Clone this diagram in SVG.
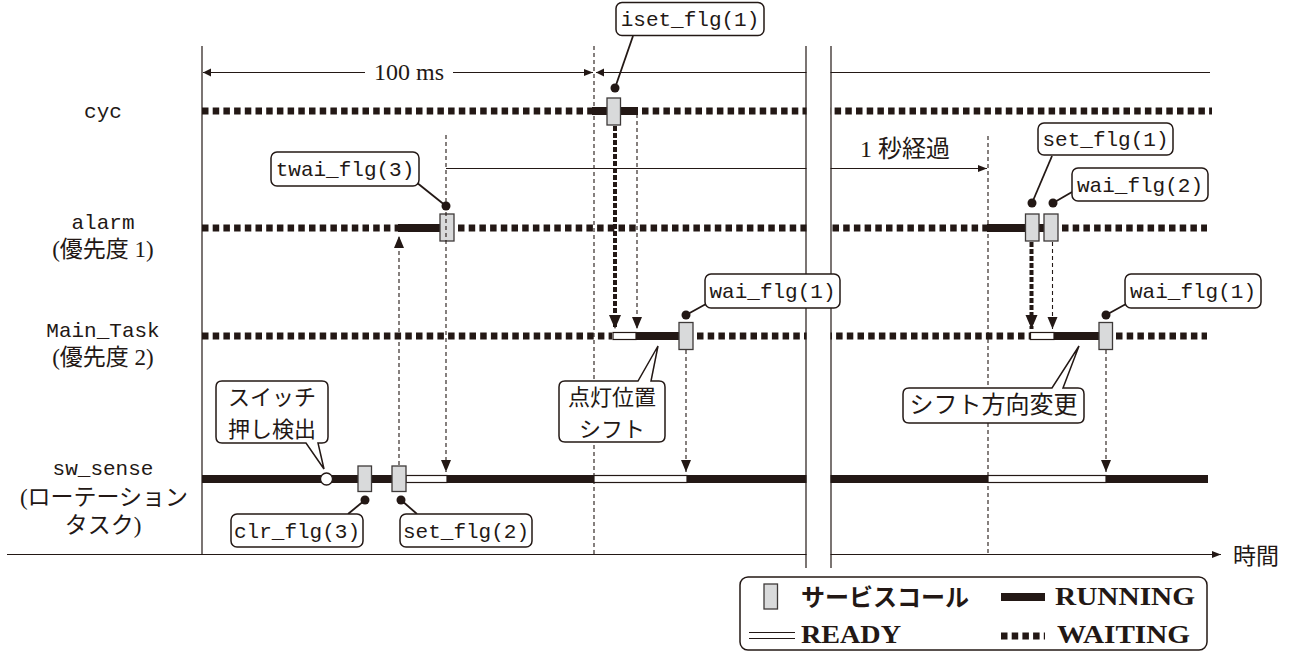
<svg xmlns="http://www.w3.org/2000/svg" width="1298" height="653" viewBox="0 0 1298 653">
<style>
.wait{stroke:#231815;stroke-width:7;stroke-dasharray:6.5 4.2;fill:none}
.run{stroke:#231815;stroke-width:8;fill:none}
.ready{fill:#fff;stroke:#231815;stroke-width:1.2}
.svc{fill:#d9dadb;stroke:#3e3a39;stroke-width:1.3}
.thin{stroke:#231815;stroke-width:1.2;fill:none}
.dash{stroke:#231815;stroke-width:1.1;stroke-dasharray:4 3;fill:none}
.thick{stroke:#231815;stroke-width:4;stroke-dasharray:5 2;fill:none}
.lbl{fill:#fff;stroke:#231815;stroke-width:1.5}
.dot{fill:#231815}
.mono{font-family:"Liberation Mono","DejaVu Sans Mono",monospace;font-size:21px;fill:#231815;text-anchor:middle}
.jp{font-family:"Liberation Serif","Noto Sans CJK JP",serif;font-size:23px;fill:#231815;text-anchor:middle}
.cj{font-family:"Noto Sans CJK JP",sans-serif;font-size:22px;fill:#231815;text-anchor:middle}
.leg{font-family:"Liberation Serif",serif;font-weight:bold;font-size:25px;fill:#231815}
</style>
<defs>
<marker id="ahs" markerUnits="userSpaceOnUse" markerWidth="12" markerHeight="10" refX="9" refY="3.5" orient="auto"><path d="M0,0 L9,3.5 L0,7 z" fill="#231815"/></marker>
<marker id="ahd" markerUnits="userSpaceOnUse" markerWidth="14" markerHeight="12" refX="12" refY="5" orient="auto"><path d="M0,0 L12,5 L0,10 z" fill="#231815"/></marker>
<marker id="ahb" markerUnits="userSpaceOnUse" markerWidth="16" markerHeight="14" refX="14" refY="6" orient="auto"><path d="M0,0 L14,6 L0,12 z" fill="#231815"/></marker>
</defs>

<g id="frame">
<line class="thin" x1="202" y1="46" x2="202" y2="555"/>
<line class="dash" x1="594" y1="46" x2="594" y2="554"/>
<line class="dash" x1="988" y1="136" x2="988" y2="554"/>
<line class="thin" x1="7" y1="554.5" x2="1221" y2="554.5" marker-end="url(#ahs)"/>
<text x="1233" y="564" style="font-family:'Noto Sans CJK JP',sans-serif;font-size:23px;fill:#231815">時間</text>
</g>

<g id="labels">
<text class="mono" x="103" y="118">cyc</text>
<text class="mono" x="103" y="229">alarm</text>
<text class="jp" x="103" y="257">(優先度 1)</text>
<text class="mono" x="103" y="337">Main_Task</text>
<text class="jp" x="103" y="365">(優先度 2)</text>
<text class="mono" x="103" y="475">sw_sense</text>
<text class="jp" x="104" y="505">(ローテーション</text>
<text class="jp" x="103" y="533">タスク)</text>
</g>

<g id="timing">
<line class="thin" x1="203" y1="72.5" x2="365" y2="72.5"/>
<path d="M211,68.5 L203,72.5 L211,76.5 z" fill="#231815"/>
<text x="409" y="80" style="font-family:'Liberation Serif',serif;font-size:24px;fill:#231815;text-anchor:middle">100 ms</text>
<line class="thin" x1="453" y1="72.5" x2="593" y2="72.5" marker-end="url(#ahs)"/>
<line class="thin" x1="596" y1="72.5" x2="1210" y2="72.5"/>
<path d="M604,68.5 L596,72.5 L604,76.5 z" fill="#231815"/>
<line class="thin" x1="446" y1="168.5" x2="987" y2="168.5" marker-end="url(#ahs)"/>
<text x="860" y="157" style="font-family:'Liberation Serif','Noto Sans CJK JP',serif;font-size:24px;fill:#231815">1 秒経過</text>
</g>

<g id="row-cyc">
<line class="wait" x1="202" y1="111" x2="592" y2="111"/>
<line class="run" x1="592" y1="111" x2="638" y2="111"/>
<line class="wait" x1="642" y1="111" x2="1212" y2="111"/>
<rect class="svc" x="607" y="98" width="13.5" height="27"/>
</g>

<g id="row-alarm">
<line class="wait" x1="202" y1="228" x2="398" y2="228"/>
<line class="run" x1="398" y1="228" x2="441" y2="228"/>
<line class="wait" x1="458" y1="228" x2="987" y2="228"/>
<line class="run" x1="987" y1="228" x2="1045" y2="228"/>
<line class="wait" x1="1062" y1="228" x2="1207" y2="228"/>
<rect class="svc" x="440" y="214" width="14" height="27"/>
<rect class="svc" x="1025.5" y="214" width="13.5" height="27"/>
<rect class="svc" x="1044" y="214" width="14" height="27"/>
</g>

<g id="row-main">
<line class="wait" x1="202" y1="336" x2="612" y2="336"/>
<rect class="ready" x="613" y="332.5" width="23" height="7"/>
<line class="run" x1="636" y1="336" x2="680" y2="336"/>
<line class="wait" x1="697" y1="336" x2="1030" y2="336"/>
<rect class="ready" x="1030.5" y="332.5" width="23.5" height="7"/>
<line class="run" x1="1054" y1="336" x2="1100" y2="336"/>
<line class="wait" x1="1116" y1="336" x2="1207" y2="336"/>
<rect class="svc" x="679" y="322.5" width="14" height="27"/>
<rect class="svc" x="1099" y="322.5" width="13.5" height="27"/>
</g>

<g id="row-sw">
<line class="run" x1="202" y1="479" x2="406" y2="479"/>
<rect class="ready" x="406" y="475.5" width="41" height="7"/>
<line class="run" x1="447" y1="479" x2="594" y2="479"/>
<rect class="ready" x="594" y="475.5" width="93" height="7"/>
<line class="run" x1="687" y1="479" x2="988" y2="479"/>
<rect class="ready" x="988" y="475.5" width="118" height="7"/>
<line class="run" x1="1106" y1="479" x2="1208" y2="479"/>
<circle cx="326.5" cy="479" r="6" fill="#fff" stroke="#231815" stroke-width="1.3"/>
<rect class="svc" x="358" y="466" width="13.5" height="25.5"/>
<rect class="svc" x="392" y="466" width="14" height="25.5"/>
</g>

<g id="connectors">
<line class="dash" x1="399" y1="465" x2="399" y2="236" marker-end="url(#ahd)"/>
<line class="dash" x1="446" y1="135" x2="446" y2="472" marker-end="url(#ahd)"/>
<line class="thick" x1="615" y1="126" x2="615" y2="329" marker-end="url(#ahb)"/>
<line class="dash" x1="637" y1="114" x2="637" y2="329" marker-end="url(#ahd)"/>
<line class="thick" x1="1031.5" y1="242" x2="1031.5" y2="329" marker-end="url(#ahb)"/>
<line class="dash" x1="1052.5" y1="242" x2="1052.5" y2="329" marker-end="url(#ahd)"/>
<line class="dash" x1="686" y1="350" x2="686" y2="472" marker-end="url(#ahd)"/>
<line class="dash" x1="1106" y1="350" x2="1106" y2="472" marker-end="url(#ahd)"/>
</g>

<g id="break">
<rect x="806.5" y="40" width="24" height="530" fill="#fff"/>
<line class="thin" x1="806" y1="46" x2="806" y2="568"/>
<line class="thin" x1="831" y1="46" x2="831" y2="568"/>
</g>

<g id="call-iset">
<line x1="633" y1="36" x2="615" y2="88" stroke="#231815" stroke-width="1.8"/>
<circle class="dot" cx="615" cy="88" r="4.5"/>
<rect class="lbl" x="616" y="2.5" width="148" height="33" rx="6"/>
<text class="mono" x="690" y="26">iset_flg(1)</text>
</g>
<g id="call-twai">
<line x1="416" y1="182" x2="446" y2="206" stroke="#231815" stroke-width="1.8"/>
<circle class="dot" cx="446" cy="206" r="4.5"/>
<rect class="lbl" x="271" y="152" width="148" height="34" rx="6"/>
<text class="mono" x="345" y="176">twai_flg(3)</text>
</g>
<g id="call-setflg1">
<line x1="1052" y1="156" x2="1032" y2="203" stroke="#231815" stroke-width="1.8"/>
<circle class="dot" cx="1032" cy="203" r="4.5"/>
<rect class="lbl" x="1038" y="123" width="135" height="32" rx="6"/>
<text class="mono" x="1105.5" y="146">set_flg(1)</text>
</g>
<g id="call-waiflg2">
<line x1="1072" y1="192" x2="1053" y2="203" stroke="#231815" stroke-width="1.8"/>
<circle class="dot" cx="1053" cy="203" r="4.5"/>
<rect class="lbl" x="1072" y="168" width="136" height="33" rx="6"/>
<text class="mono" x="1140" y="192">wai_flg(2)</text>
</g>
<g id="call-waiflg1a">
<line x1="706" y1="304" x2="686" y2="315" stroke="#231815" stroke-width="1.8"/>
<circle class="dot" cx="686" cy="315" r="4.5"/>
<rect class="lbl" x="705" y="274" width="135" height="34" rx="6"/>
<text class="mono" x="772.5" y="298">wai_flg(1)</text>
</g>
<g id="call-waiflg1b">
<line x1="1126" y1="304" x2="1106" y2="315" stroke="#231815" stroke-width="1.8"/>
<circle class="dot" cx="1106" cy="315" r="4.5"/>
<rect class="lbl" x="1125" y="274" width="136" height="34" rx="6"/>
<text class="mono" x="1193" y="298">wai_flg(1)</text>
</g>
<g id="call-clr">
<line x1="348" y1="514" x2="365" y2="500" stroke="#231815" stroke-width="1.8"/>
<circle class="dot" cx="365" cy="500" r="4.5"/>
<rect class="lbl" x="231" y="514" width="132" height="33" rx="6"/>
<text class="mono" x="297" y="538">clr_flg(3)</text>
</g>
<g id="call-setflg2">
<line x1="417" y1="514" x2="401" y2="500" stroke="#231815" stroke-width="1.8"/>
<circle class="dot" cx="401" cy="500" r="4.5"/>
<rect class="lbl" x="400" y="514" width="132" height="33" rx="6"/>
<text class="mono" x="466" y="538">set_flg(2)</text>
</g>

<g id="note-switch">
<path class="lbl" d="M222,381 L322,381 Q328,381 328,387 L328,437 Q328,443 322,443 L318,443 L324,469 L306,443 L222,443 Q216,443 216,437 L216,387 Q216,381 222,381 Z"/>
<text class="cj" x="272" y="405">スイッチ</text>
<text class="cj" x="272" y="437">押し検出</text>
</g>
<g id="note-shift">
<path class="lbl" d="M565,381 L638,381 L658,346 L651,381 L659,381 Q665,381 665,387 L665,436 Q665,442 659,442 L565,442 Q559,442 559,436 L559,387 Q559,381 565,381 Z"/>
<text class="cj" x="612" y="405">点灯位置</text>
<text class="cj" x="612" y="437">シフト</text>
</g>
<g id="note-dir">
<path class="lbl" d="M909,388 L1052,388 L1079,346 L1063,388 L1078,388 Q1084,388 1084,394 L1084,417 Q1084,423 1078,423 L909,423 Q903,423 903,417 L903,394 Q903,388 909,388 Z"/>
<text class="cj" x="993.5" y="413" style="font-size:24px">シフト方向変更</text>
</g>

<g id="legend">
<rect x="740" y="577" width="467" height="73" rx="8" fill="#fff" stroke="#231815" stroke-width="1.5"/>
<rect class="svc" x="764" y="584" width="13.5" height="25"/>
<text x="801" y="606" style="font-family:'Noto Sans CJK JP',sans-serif;font-weight:bold;font-size:24px;fill:#231815">サービスコール</text>
<line class="run" x1="1001" y1="597" x2="1045" y2="597"/>
<text class="leg" x="1055" y="605" textLength="140" lengthAdjust="spacingAndGlyphs">RUNNING</text>
<line class="thin" x1="749" y1="632.5" x2="795" y2="632.5"/>
<line class="thin" x1="749" y1="638.5" x2="795" y2="638.5"/>
<text class="leg" x="801" y="643" textLength="100" lengthAdjust="spacingAndGlyphs">READY</text>
<line class="wait" x1="1001" y1="636" x2="1045" y2="636"/>
<text class="leg" x="1057" y="643" textLength="133" lengthAdjust="spacingAndGlyphs">WAITING</text>
</g>
</svg>
